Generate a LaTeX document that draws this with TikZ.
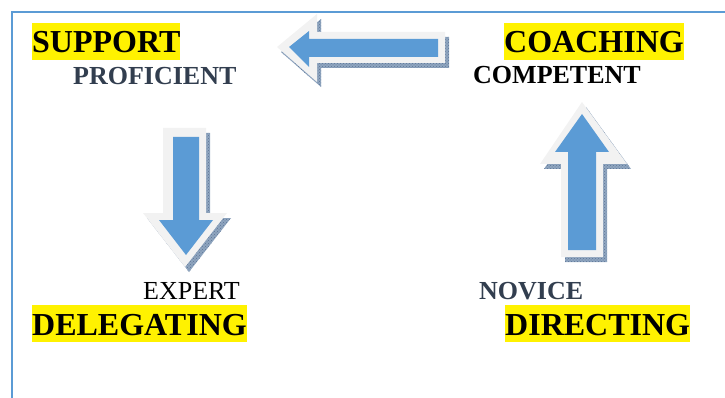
\documentclass[tikz,border=0pt]{standalone}
\usepackage{fontspec}
\setmainfont{Liberation Serif}
\usetikzlibrary{patterns}
\definecolor{arrowblue}{HTML}{5B9BD5}
\definecolor{rimgray}{HTML}{F2F2F2}
\definecolor{shadowcol}{HTML}{8FA5BF}
\definecolor{shadowdark}{HTML}{5C7596}
\definecolor{framecol}{HTML}{5B9BD5}
\definecolor{slate}{HTML}{323E4F}
\begin{document}
\begin{tikzpicture}[x=1pt,y=-1pt,
  bigword/.style={anchor=base west,inner xsep=0pt,inner ysep=0pt,fill=yellow,text height=30pt,text depth=7pt,font=\fontsize{32}{38}\selectfont\bfseries},
  smallword/.style={anchor=base west,inner sep=0pt,font=\fontsize{26}{31}\selectfont\bfseries},
  shadowfill/.style={fill=shadowcol,postaction={pattern=crosshatch dots,pattern color=shadowdark}},
  rimfill/.style={fill=rimgray},
  corefill/.style={fill=arrowblue}]
\useasboundingbox (0,0) rectangle (725,398);
% frame
\draw[framecol,line width=2.5pt] (12,398) -- (12,12) -- (725,12);
% left arrow (top)
\begin{scope}[shift={(4,5)}]
\fill[shadowfill] (277,47) -- (317,14) -- (317,32) -- (445,32) -- (445,63) -- (317,63) -- (317,82) -- cycle;
\end{scope}
\fill[rimfill] (277,47) -- (317,14) -- (317,32) -- (445,32) -- (445,63) -- (317,63) -- (317,82) -- cycle;
\fill[corefill] (289,47) -- (309,31) -- (309,39) -- (438,39) -- (438,57) -- (309,57) -- (309,67) -- cycle;
% down arrow
\begin{scope}[shift={(4,5)}]
\fill[shadowfill] (163,128) -- (206,128) -- (206,213) -- (227,213) -- (185,267) -- (143,213) -- (163,213) -- cycle;
\end{scope}
\fill[rimfill] (163,128) -- (206,128) -- (206,213) -- (227,213) -- (185,267) -- (143,213) -- (163,213) -- cycle;
\fill[corefill] (173,137) -- (199,137) -- (199,220) -- (213,220) -- (186,255) -- (159,220) -- (173,220) -- cycle;
% up arrow
\begin{scope}[shift={(4,5)}]
\fill[shadowfill] (582,102) -- (627,164) -- (603,164) -- (603,257) -- (561,257) -- (561,164) -- (540,164) -- cycle;
\end{scope}
\fill[rimfill] (582,102) -- (627,164) -- (603,164) -- (603,257) -- (561,257) -- (561,164) -- (540,164) -- cycle;
\fill[corefill] (582,114) -- (609,152) -- (596,152) -- (596,250) -- (568,250) -- (568,152) -- (555,152) -- cycle;
% texts
\node[bigword] (support) at (32,53) {SUPPORT};
\node[smallword,text=slate] (proficient) at (73,85) {PROFICIENT};
\node[bigword] (coaching) at (504,53) {COACHING};
\node[smallword] (competent) at (473,84) {COMPETENT};
\node[smallword,font=\fontsize{26}{31}\selectfont] (expert) at (143,299) {EXPERT};
\node[bigword] (delegating) at (32,335) {DELEGATING};
\node[smallword,text=slate] (novice) at (479,299) {NOVICE};
\node[bigword] (directing) at (505,335) {DIRECTING};
\end{tikzpicture}
\end{document}
